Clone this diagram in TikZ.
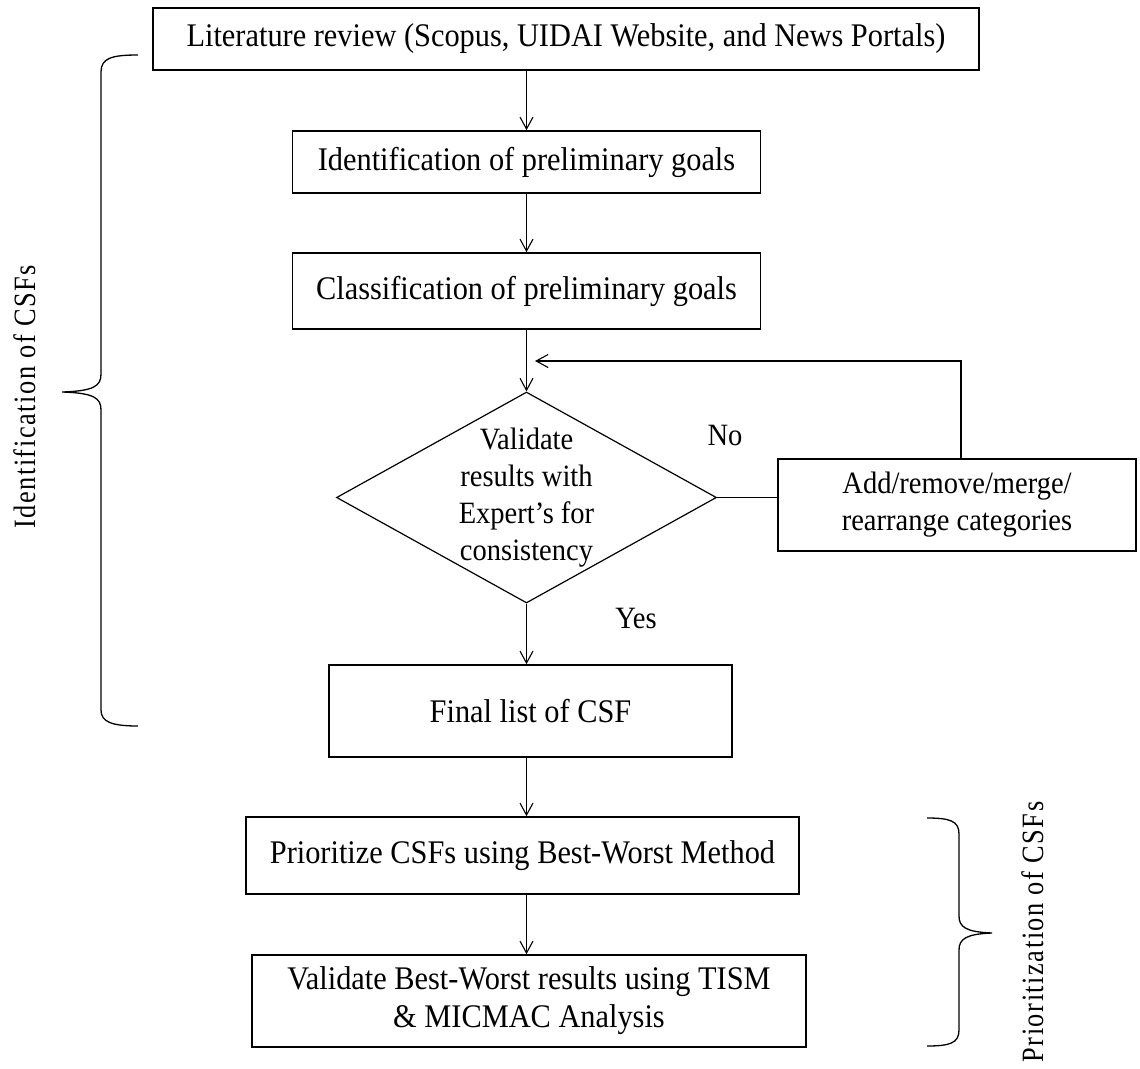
\documentclass[tikz,border=0pt]{standalone}
\usepackage{fontspec}
\setmainfont{Liberation Serif}[FakeStretch=0.92]
\newfontfamily\lblfont{Liberation Serif}[FakeStretch=0.85,LetterSpace=5]
\usetikzlibrary{shapes.geometric,arrows.meta}

\begin{document}
\begin{tikzpicture}[x=1pt,y=-1pt,
  txt/.style={font=\fontsize{31}{37}\selectfont},
  bigtxt/.style={font=\fontsize{33}{38}\selectfont},
  stepbox/.style={draw, line width=1.6pt, rectangle, inner sep=0pt, align=center, bigtxt},
  decide/.style={draw, line width=1.2pt, diamond, inner sep=0pt},
  arr/.style={line width=1.1pt, -{Straight Barb[length=12pt,width=13pt]}},
  link/.style={line width=1.1pt},
  brace/.style={line width=1.3pt},
  side/.style={font=\lblfont\fontsize{31}{37}\selectfont, rotate=90, anchor=base}
]
\useasboundingbox (0,0) rectangle (1140,1068);

% process steps
\node[stepbox, minimum width=826pt, minimum height=62pt] (lit) at (566,39)
  {Literature review (Scopus, UIDAI Website, and News Portals)};
\node[stepbox, minimum width=468pt, minimum height=62pt] (ident) at (526.5,162)
  {Identification of preliminary goals};
\node[stepbox, minimum width=468pt, minimum height=76pt] (class) at (526.5,291)
  {Classification of preliminary goals};
\node[decide, minimum width=380pt, minimum height=211pt,
  label={[txt, align=center]center:Validate\\results with\\Expert’s for\\consistency}]
  (chk) at (526.5,497.5) {};
\node[stepbox, txt, minimum width=358pt, minimum height=92pt] (add) at (957,505)
  {Add/remove/merge/\\rearrange categories};
\node[stepbox, minimum width=403pt, minimum height=92pt] (final) at (530.5,711)
  {Final list of CSF};
\node[stepbox, minimum width=553pt, minimum height=77pt] (prio) at (522.5,855.5)
  {Prioritize CSFs using Best-Worst Method};
\node[stepbox, minimum width=554pt, minimum height=92pt] (valid) at (529,1001)
  {Validate Best-Worst results using TISM\\\& MICMAC Analysis};

% decision labels
\node[txt] (no) at (725,435) {No};
\node[txt] (yes) at (636,618) {Yes};

% connectors
\draw[arr] (ident.north |- lit.south) -- (ident.north);
\draw[arr] (ident.south) -- (class.north);
\draw[arr] (class.south) -- (chk.north);
\draw[link] (chk.east) -- (chk.east -| add.west);
\coordinate (fbend) at (535,361);
\draw[arr] ([xshift=4pt]add.north) |- (fbend);
\draw[arr] (chk.south) -- (chk.south |- final.north);
\draw[arr] (final.south -| chk.south) -- (prio.north -| chk.south);
\draw[arr] (prio.south -| chk.south) -- (valid.north -| chk.south);

% phase braces
\draw[brace] (138,55) .. controls (112,55) and (101,58) .. (101,72) -- (101,374)
  .. controls (101,386) and (94,391) .. (62,392)
  .. controls (94,393) and (101,398) .. (101,410) -- (101,710)
  .. controls (101,722) and (112,726) .. (138,726);
\draw[brace] (927,818) .. controls (950,818) and (959,821) .. (959,834) -- (959,916)
  .. controls (959,927) and (966,932) .. (992,933)
  .. controls (966,934) and (959,939) .. (959,950) -- (959,1030)
  .. controls (959,1043) and (950,1046) .. (927,1046);

% phase labels
\node[side] (idlbl) at (35,397) {Identification of CSFs};
\node[side] (prlbl) at (1043,932) {Prioritization of CSFs};
\end{tikzpicture}
\end{document}
